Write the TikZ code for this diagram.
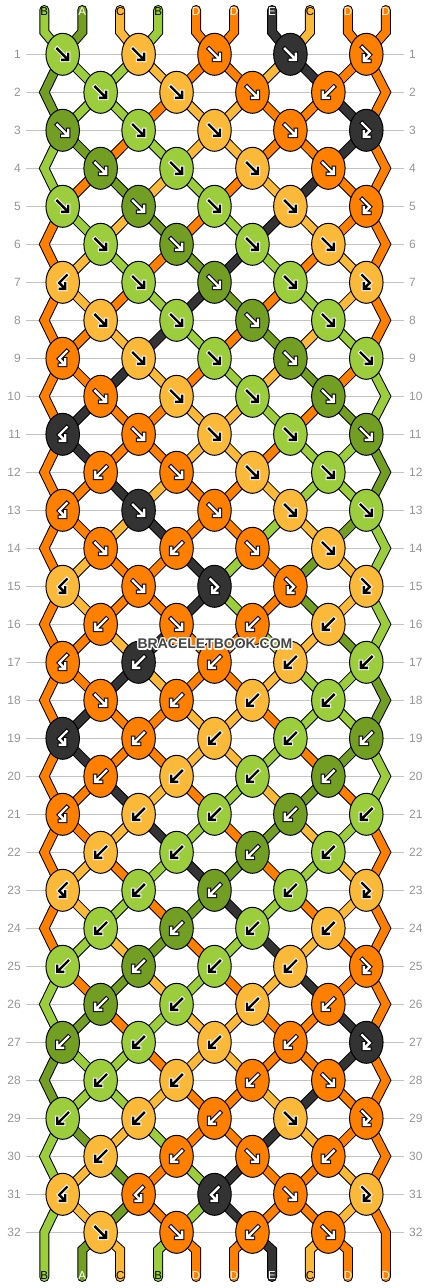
\documentclass[tikz,border=0pt]{standalone}
\usepackage{fontspec}
\setmainfont{Liberation Sans}
\usetikzlibrary{shapes.geometric}
\definecolor{cA}{RGB}{115,158,36}
\definecolor{cB}{RGB}{155,205,60}
\definecolor{cC}{RGB}{251,185,58}
\definecolor{cD}{RGB}{255,128,0}
\definecolor{cE}{RGB}{51,51,51}
\colorlet{fgA}{white}\colorlet{fgB}{black}\colorlet{fgC}{black}\colorlet{fgD}{white}\colorlet{fgE}{white}
\colorlet{olA}{black}\colorlet{olB}{white}\colorlet{olC}{white}\colorlet{olD}{black}\colorlet{olE}{black}
\definecolor{numgray}{RGB}{150,150,150}
\definecolor{linegray}{RGB}{195,195,195}
\definecolor{wmgray}{RGB}{70,70,70}
\pgfdeclarelayer{gridlayer}\pgfdeclarelayer{strandlayer}
\pgfsetlayers{gridlayer,strandlayer,main}
\tikzset{
  knot/.style={ellipse, draw=black, line width=1pt, minimum width=33.5pt, minimum height=42pt, inner sep=0pt},
  strand/.style={draw=black, line width=1pt, double=#1, double distance=8pt, line cap=round, line join=miter},
  arrol/.style={draw=curol, line width=4.4pt, line cap=rect, line join=miter},
  arrfg/.style={draw=curfg, line width=2.4pt, line cap=rect, line join=miter},
  numlbl/.style={text=numgray, font=\fontsize{12}{12}\selectfont, inner sep=0pt},
  strlbl/.style={font=\fontsize{11.5}{11.5}\selectfont, inner sep=0pt},
  gridline/.style={draw=linegray, line width=1pt},
  wm/.style={font=\bfseries\fontsize{14}{14}\selectfont, inner sep=0pt}
}
\newcommand\kaF{%
  \draw[arrol] (-5.5,-5.5)--(4,4) (-0.5,5.5)--(5.5,5.5)--(5.5,-0.5);
  \draw[arrfg] (-5.5,-5.5)--(4,4) (-0.5,5.5)--(5.5,5.5)--(5.5,-0.5);}
\newcommand\kaFB{%
  \draw[arrol] (-4,-7)--(3.5,0.5)--(-1.8,5.8) (-2.5,1)--(-2.5,6.5)--(3,6.5);
  \draw[arrfg] (-4,-7)--(3.5,0.5)--(-1.8,5.8) (-2.5,1)--(-2.5,6.5)--(3,6.5);}
\newcommand\kaB{\begin{scope}[xscale=-1]\kaF\end{scope}}
\newcommand\kaBF{\begin{scope}[xscale=-1]\kaFB\end{scope}}
\begin{document}
\begin{tikzpicture}[x=1pt,y=-1pt]
\useasboundingbox (0,0) rectangle (430,1288);
\begin{pgfonlayer}{gridlayer}
\fill[white] (0,0) rectangle (430,1288);
\end{pgfonlayer}
% knots, row numbers, grid lines
\foreach \knots [count=\rw] in {
 {F/B,F/C,F/D,F/E,FB/D},
 {F/B,F/C,F/D,B/D},
 {F/A,F/B,F/C,F/D,FB/E},
 {F/A,F/B,F/C,F/D},
 {F/B,F/A,F/B,F/C,FB/D},
 {F/B,F/A,F/B,F/C},
 {BF/C,F/B,F/A,F/B,FB/C},
 {F/C,F/B,F/A,F/B},
 {BF/D,F/C,F/B,F/A,F/B},
 {F/D,F/C,F/B,F/A},
 {BF/E,F/D,F/C,F/B,F/A},
 {B/D,F/D,F/C,F/B},
 {BF/D,F/E,F/D,F/C,F/B},
 {F/D,B/D,F/D,F/C},
 {BF/C,F/D,FB/E,FB/D,FB/C},
 {B/D,F/D,B/D,B/C},
 {BF/D,B/E,B/D,B/C,B/B},
 {F/D,B/D,B/C,B/B},
 {BF/E,B/D,B/C,B/B,B/A},
 {B/D,B/C,B/B,B/A},
 {BF/D,B/C,B/B,B/A,B/B},
 {B/C,B/B,B/A,B/B},
 {BF/C,B/B,B/A,B/B,FB/C},
 {B/B,B/A,B/B,B/C},
 {B/B,B/A,B/B,B/C,FB/D},
 {B/A,B/B,B/C,B/D},
 {B/A,B/B,B/C,B/D,FB/E},
 {B/B,B/C,B/D,F/D},
 {B/B,B/C,B/D,F/C,FB/D},
 {B/C,B/D,F/D,B/D},
 {BF/C,BF/D,BF/E,F/D,FB/C},
 {F/C,F/D,B/D,F/D}} {
  \pgfmathsetmacro\yy{16.3+38*\rw}
  \pgfmathtruncatemacro\odd{mod(\rw,2)}
  \node[numlbl, anchor=east] (L-\rw) at (21,\yy) {\rw};
  \node[numlbl, anchor=west] (R-\rw) at (409,\yy) {\rw};
  \begin{pgfonlayer}{gridlayer}
    \draw[gridline] ([xshift=5pt]L-\rw.east) -- ([xshift=-5pt]R-\rw.west);
  \end{pgfonlayer}
  \foreach \ty/\cl [count=\kn] in \knots {
    \pgfmathsetmacro\xx{\odd==1 ? 62.7+75.9*(\kn-1) : 100.65+75.9*(\kn-1)}
    \node[knot, fill=c\cl] (K-\rw-\kn) at (\xx,\yy) {};
    \colorlet{curfg}{fg\cl}\colorlet{curol}{ol\cl}
    \begin{scope}[shift={(\xx,\yy)}]\csname ka\ty\endcsname\end{scope}
  }
}
% strands
\begin{pgfonlayer}{strandlayer}
\foreach \bd/\st in {
 0/{B,A,C,B,D,D,E,C,D,D},
 1/{A,B,B,C,D,D,C,E,D,D},
 2/{A,B,B,D,C,C,D,D,E,D},
 3/{B,A,D,B,C,C,D,D,E,D},
 4/{B,D,A,C,B,D,C,E,D,D},
 5/{D,B,C,A,D,B,E,C,D,D},
 6/{D,C,B,D,A,E,B,D,C,D},
 7/{D,C,D,B,E,A,D,B,C,D},
 8/{D,D,C,E,B,D,A,C,B,D},
 9/{D,D,E,C,D,B,C,A,D,B},
 10/{D,E,D,D,C,C,B,D,A,B},
 11/{D,E,D,D,C,C,D,B,B,A},
 12/{D,D,E,C,D,D,C,B,B,A},
 13/{D,D,C,E,D,D,B,C,A,B},
 14/{D,C,D,D,E,B,D,A,C,B},
 15/{D,C,D,D,E,B,D,A,C,B},
 16/{D,D,C,E,D,D,B,C,A,B},
 17/{D,D,E,C,D,D,C,B,B,A},
 18/{D,E,D,D,C,C,D,B,B,A},
 19/{D,E,D,D,C,C,B,D,A,B},
 20/{D,D,E,C,D,B,C,A,D,B},
 21/{D,D,C,E,B,D,A,C,B,D},
 22/{D,C,D,B,E,A,D,B,C,D},
 23/{D,C,B,D,A,E,B,D,C,D},
 24/{D,B,C,A,D,B,E,C,D,D},
 25/{B,D,A,C,B,D,C,E,D,D},
 26/{B,A,D,B,C,C,D,D,E,D},
 27/{A,B,B,D,C,C,D,D,E,D},
 28/{A,B,B,C,D,D,C,E,D,D},
 29/{B,A,C,B,D,D,E,C,D,D},
 30/{B,C,A,D,B,E,D,D,C,D},
 31/{B,C,A,D,B,E,D,D,C,D},
 32/{B,A,C,B,D,D,E,C,D,D}} {
  \pgfmathtruncatemacro\bb{\bd+1}
  \pgfmathtruncatemacro\bbb{\bd+2}
  \pgfmathtruncatemacro\isodd{mod(\bd,2)}
  \pgfmathsetmacro\yv{16.3+38*(\bd+1)}
  \foreach \cl [count=\p] in \st {
    \pgfmathtruncatemacro\kc{ceil(\p/2)}
    \pgfmathtruncatemacro\kf{floor(\p/2)}
    \pgfmathsetmacro\xs{44.3+37.95*(\p-1)}
    \ifnum\bd=0 
      \draw[strand=c\cl] (\xs,10) -- (\xs,32) -- (K-1-\kc.center);
    \else\ifnum\bd=32 
      \ifnum\p>1 \ifnum\p<10 
        \draw[strand=c\cl] (K-32-\kf.center) -- (\xs,1250) -- (\xs,1277);
      \fi\fi
    \else\ifnum\isodd=1 
      \ifnum\p=1 
        \ifnum\bd=31 
          \draw[strand=c\cl] (K-\bd-1.center) -- (\xs,\yv) -- (\xs,1277);
        \else
          \draw[strand=c\cl] (K-\bd-1.center) -- (\xs,\yv) -- (K-\bbb-1.center);
        \fi
      \else\ifnum\p=10 
        \ifnum\bd=31 
          \draw[strand=c\cl] (K-\bd-5.center) -- (\xs,\yv) -- (\xs,1277);
        \else
          \draw[strand=c\cl] (K-\bd-5.center) -- (\xs,\yv) -- (K-\bbb-5.center);
        \fi
      \else
        \draw[strand=c\cl] (K-\bd-\kc.center) -- (K-\bb-\kf.center);
      \fi\fi
    \else
      \ifnum\p>1 \ifnum\p<10 
        \draw[strand=c\cl] (K-\bd-\kf.center) -- (K-\bb-\kc.center);
      \fi\fi
    \fi\fi\fi
  }
}
\end{pgfonlayer}
% strand letters
\foreach \cl [count=\p] in {B,A,C,B,D,D,E,C,D,D} {
  \pgfmathsetmacro\xs{44.3+37.95*(\p-1)}
  \node[strlbl, text=fg\cl] (T-\p) at (\xs,11.5) {\cl};
  \node[strlbl, text=fg\cl] (U-\p) at (\xs,1276) {\cl};
}
% watermark
\foreach \dx/\dy in {-1/-1,-1/0,-1/1,0/-1,0/1,1/-1,1/0,1/1,0/1.6,1/1.6}
  \node[wm, text=white] at (215+\dx,644+\dy) {BRACELETBOOK.COM};
\node[wm, text=wmgray] (wm) at (215,644) {BRACELETBOOK.COM};
\end{tikzpicture}
\end{document}
